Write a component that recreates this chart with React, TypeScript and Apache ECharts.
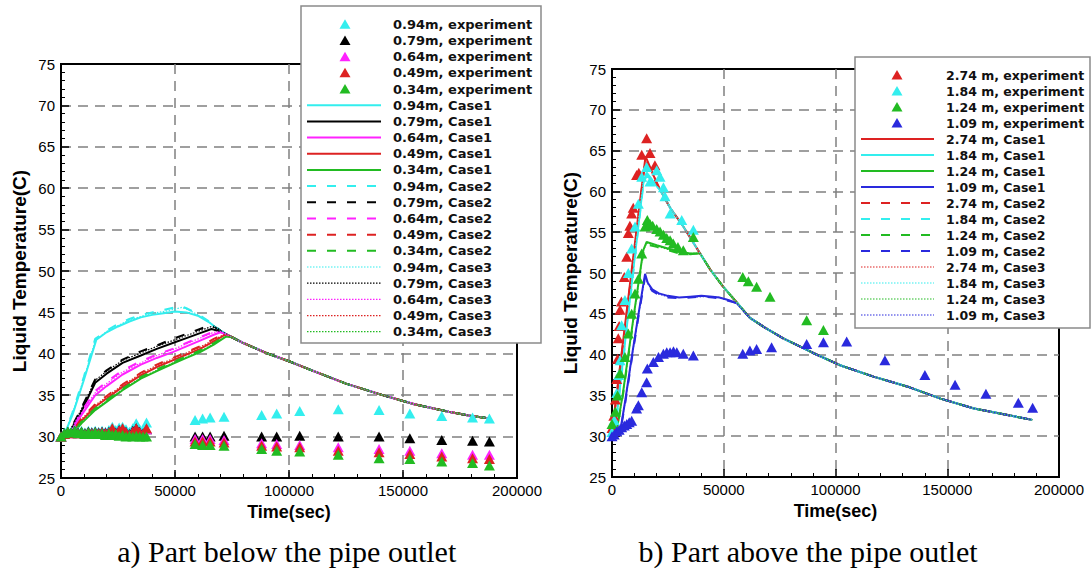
import React, { useEffect, useRef } from "react";
import * as echarts from "echarts";

// ---------- Panel a) : below the pipe outlet ----------
const LEFT_POS = ["0.94m", "0.79m", "0.64m", "0.49m", "0.34m"];
const LEFT_COLORS = ["#33EEEE", "#000000", "#FF22FF", "#DD2222", "#22BB22"];

const LEFT_EXP_X = [
  0, 1500, 3000, 4500, 6000, 7500, 9000, 10500, 12000, 13500, 15000, 16500, 18000,
  19500, 21000, 22500, 24000, 25500, 27000, 28500, 30000, 31500, 33000, 34500, 36000, 37500,
  58800, 62100, 65400, 71500, 88000, 94600, 104700, 121600, 139500, 153000, 167000, 180500, 187900,
];
const LEFT_EXP_094 = [
  30.0, 30.5, 30.7, 30.6, 30.8, 30.6, 30.7, 30.5, 30.7, 30.6, 30.7, 30.6, 30.7,
  30.6, 30.8, 31.2, 30.8, 31.1, 31.2, 30.9, 30.6, 31.0, 31.6, 30.9, 30.7, 31.7,
  32.0, 32.2, 32.3, 32.4, 32.6, 32.8, 33.1, 33.3, 33.2, 32.8, 32.5, 32.3, 32.2,
];
const LEFT_EXP_079 = [
  30.0, 30.4, 30.6, 30.5, 30.7, 30.5, 30.6, 30.4, 30.6, 30.5, 30.6, 30.5, 30.6,
  30.5, 30.6, 30.9, 30.5, 30.8, 30.9, 30.6, 30.3, 30.7, 31.0, 30.6, 30.4, 30.9,
  30.0, 30.0, 30.0, 30.1, 30.0, 30.0, 30.1, 30.0, 30.0, 29.8, 29.6, 29.5, 29.4,
];
const LEFT_EXP_064 = [
  30.0, 30.3, 30.5, 30.4, 30.6, 30.4, 30.5, 30.3, 30.5, 30.4, 30.5, 30.4, 30.5,
  30.4, 30.5, 30.8, 30.4, 30.7, 30.9, 30.5, 30.2, 30.6, 30.9, 30.5, 30.3, 30.9,
  29.7, 29.7, 29.7, 29.6, 29.2, 29.1, 29.0, 28.7, 28.5, 28.3, 28.0, 27.8, 27.8,
];
const LEFT_EXP_049 = [
  30.0, 30.3, 30.5, 30.4, 30.6, 30.4, 30.5, 30.3, 30.5, 30.4, 30.5, 30.4, 30.5,
  30.4, 30.5, 31.0, 30.3, 30.7, 31.0, 30.5, 30.2, 30.6, 31.0, 30.5, 30.3, 31.0,
  29.4, 29.4, 29.4, 29.3, 28.9, 28.8, 28.7, 28.3, 28.1, 27.9, 27.6, 27.4, 27.3,
];
const LEFT_EXP_034 = [
  30.0, 30.4, 30.6, 30.5, 30.7, 30.4, 30.6, 30.3, 30.5, 30.3, 30.5, 30.3, 30.4,
  30.2, 30.4, 30.2, 30.3, 30.1, 30.2, 30.0, 30.1, 30.0, 30.1, 30.0, 30.0, 30.0,
  29.1, 29.0, 29.0, 28.9, 28.5, 28.3, 28.2, 27.8, 27.4, 27.3, 27.0, 26.8, 26.5,
];

const LEFT_C1_094 = [[0, 30], [2000, 30.6], [5000, 32.6], [10000, 36.8], [15500, 41.7], [20000, 42.6], [25000, 43.3], [30000, 43.9], [35000, 44.4], [40000, 44.7], [45000, 44.9], [50000, 45.1], [55000, 45.0], [60000, 44.6], [65000, 43.8], [70000, 42.7]];
const LEFT_C2_094 = [[0, 30], [2000, 30.7], [5000, 32.9], [10000, 37.2], [15000, 41.8], [20000, 42.8], [25000, 43.6], [30000, 44.2], [35000, 44.7], [40000, 45.0], [45000, 45.3], [50000, 45.6], [52000, 45.8], [55000, 45.5], [60000, 44.8], [65000, 43.9], [70000, 42.8]];
const LEFT_C3_094 = [[0, 30], [2000, 30.7], [5000, 32.8], [10000, 37.0], [15000, 41.6], [20000, 42.7], [25000, 43.4], [30000, 44.1], [35000, 44.5], [40000, 44.9], [45000, 45.1], [50000, 45.4], [53000, 45.6], [56000, 45.3], [60000, 44.7], [65000, 43.8], [70000, 42.8]];
const LEFT_C1_079 = [[0, 30], [3000, 30.2], [8000, 32.5], [15000, 36.5], [20000, 37.6], [27000, 38.9], [35000, 39.8], [42000, 40.6], [49000, 41.3], [55000, 41.9], [61000, 42.5], [66000, 43.0], [70000, 42.7]];
const LEFT_C2_079 = [[0, 30], [3000, 30.3], [8000, 32.9], [15000, 36.9], [20000, 38.0], [27000, 39.3], [35000, 40.3], [42000, 41.0], [49000, 41.8], [55000, 42.4], [61000, 43.0], [66000, 43.5], [70000, 42.8]];
const LEFT_C3_079 = [[0, 30], [3000, 30.3], [8000, 32.8], [15000, 36.8], [20000, 37.9], [27000, 39.2], [35000, 40.1], [42000, 40.9], [49000, 41.6], [55000, 42.2], [61000, 42.8], [66000, 43.3], [70000, 42.8]];
const LEFT_C1_064 = [[0, 30], [3500, 30.1], [8000, 32.2], [15000, 35.0], [20000, 36.1], [27000, 37.5], [35000, 38.7], [42000, 39.5], [49000, 40.2], [55000, 40.9], [61000, 41.6], [67000, 42.3], [70000, 42.6]];
const LEFT_C2_064 = [[0, 30], [3500, 30.2], [8000, 32.6], [15000, 35.5], [20000, 36.6], [27000, 38.0], [35000, 39.1], [42000, 39.9], [49000, 40.6], [55000, 41.3], [61000, 42.0], [67000, 42.7], [70000, 42.7]];
const LEFT_C3_064 = [[0, 30], [3500, 30.2], [8000, 32.5], [15000, 35.3], [20000, 36.4], [27000, 37.8], [35000, 38.9], [42000, 39.8], [49000, 40.5], [55000, 41.2], [61000, 41.9], [67000, 42.6], [70000, 42.7]];
const LEFT_C1_049 = [[0, 30], [4000, 30.1], [9000, 31.9], [15000, 33.6], [20000, 34.6], [27000, 36.0], [35000, 37.4], [42000, 38.4], [49000, 39.2], [55000, 39.9], [61000, 40.6], [67000, 41.5], [72000, 42.3]];
const LEFT_C2_049 = [[0, 30], [4000, 30.2], [9000, 32.2], [15000, 33.9], [20000, 34.9], [27000, 36.3], [35000, 37.7], [42000, 38.7], [49000, 39.5], [55000, 40.2], [61000, 40.9], [67000, 41.8], [72000, 42.4]];
const LEFT_C3_049 = [[0, 30], [4000, 30.2], [9000, 32.1], [15000, 33.8], [20000, 34.8], [27000, 36.2], [35000, 37.6], [42000, 38.6], [49000, 39.4], [55000, 40.1], [61000, 40.8], [67000, 41.7], [72000, 42.4]];
const LEFT_C1_034 = [[0, 30], [4000, 30.0], [9000, 31.6], [15000, 33.2], [20000, 34.2], [27000, 35.6], [35000, 37.0], [42000, 37.9], [49000, 38.8], [55000, 39.5], [61000, 40.2], [67000, 41.1], [72500, 42.1]];
const LEFT_C2_034 = [[0, 30], [4000, 30.1], [9000, 31.8], [15000, 33.4], [20000, 34.4], [27000, 35.8], [35000, 37.2], [42000, 38.1], [49000, 39.0], [55000, 39.7], [61000, 40.4], [67000, 41.3], [72500, 42.2]];
const LEFT_C3_034 = [[0, 30], [4000, 30.1], [9000, 31.7], [15000, 33.3], [20000, 34.3], [27000, 35.7], [35000, 37.1], [42000, 38.0], [49000, 38.9], [55000, 39.6], [61000, 40.3], [67000, 41.2], [72500, 42.1]];
const LEFT_DECAY = [[75000, 42.0], [80000, 41.3], [90000, 40.1], [100000, 39.1], [110000, 38.0], [125000, 36.4], [140000, 35.1], [155000, 33.9], [170000, 33.0], [180000, 32.5], [188000, 32.2]];

// ---------- Panel b) : above the pipe outlet ----------
const RIGHT_POS = ["2.74 m", "1.84 m", "1.24 m", "1.09 m"];
const RIGHT_COLORS = ["#DD2222", "#33EEEE", "#22BB22", "#2A2ADD"];

const RIGHT_EXP_274 = [[0, 31.0], [800, 32.5], [1500, 34.5], [2100, 37.0], [2500, 39.5], [2800, 42.0], [3200, 43.5], [3600, 45.5], [4200, 46.5], [5500, 49.5], [6600, 52.0], [7300, 54.9], [8000, 55.8], [8800, 57.3], [9500, 58.0], [11000, 62.0], [12000, 62.3], [13300, 64.5], [15500, 66.5], [17000, 64.7], [19200, 63.2]];
const RIGHT_EXP_184 = [[0, 30.5], [1000, 32.0], [2100, 35.3], [3000, 37.5], [3600, 39.3], [4300, 43.6], [5800, 46.7], [7300, 50.0], [8800, 53.0], [10300, 55.7], [11800, 58.5], [13300, 61.8], [15500, 63.0], [17000, 61.2], [20000, 62.6], [21500, 61.8], [23000, 60.5], [23700, 59.4], [26000, 57.3], [31200, 56.5], [36400, 55.3]];
const RIGHT_EXP_124 = [[0, 31.5], [1500, 33.0], [2500, 35.0], [3600, 37.7], [5800, 39.7], [7300, 42.6], [8800, 45.0], [10300, 47.5], [11800, 49.3], [13300, 52.4], [14800, 55.7], [15800, 56.5], [17000, 56.0], [18200, 55.8], [20000, 55.4], [21500, 55.1], [23000, 54.7], [24500, 54.3], [26000, 54.0], [27400, 53.6], [29500, 53.2], [31900, 52.8], [36400, 54.4], [58500, 49.5], [61000, 49.0], [64700, 48.3], [70700, 47.1], [87100, 44.2], [94600, 43.0]];
const RIGHT_EXP_109 = [[0, 30.0], [1000, 30.2], [2100, 30.6], [3200, 30.8], [4300, 31.1], [5500, 31.3], [6600, 31.5], [7700, 31.7], [8800, 31.9], [11000, 33.4], [11800, 33.8], [13300, 35.4], [15500, 36.6], [15800, 38.3], [18500, 39.1], [20800, 39.7], [23000, 40.1], [24500, 40.3], [26000, 40.3], [27500, 40.4], [29000, 40.3], [31900, 40.1], [36400, 39.9], [58500, 40.1], [61700, 40.5], [64700, 40.7], [71400, 40.9], [87100, 41.3], [94600, 41.5], [105000, 41.6], [122100, 39.3], [140000, 37.5], [153500, 36.3], [167300, 35.2], [181800, 34.1], [188200, 33.5]];

const RIGHT_C1_274 = [[0, 30.5], [3000, 37.2], [6000, 44.0], [9000, 50.8], [12000, 57.6], [15000, 64.3], [17000, 63.0], [19000, 61.7]];
const RIGHT_C2_274 = [[0, 30.3], [3000, 37.0], [6000, 43.7], [9000, 50.5], [12000, 57.3], [15000, 64.0], [17000, 62.8], [19000, 61.5]];
const RIGHT_C3_274 = [[0, 30.4], [3000, 37.1], [6000, 43.9], [9000, 50.6], [12000, 57.5], [15000, 64.2], [17000, 62.9], [19000, 61.6]];
const RIGHT_C1_184 = [[0, 30], [1500, 31.0], [5000, 39.5], [10000, 51.5], [14000, 61.0], [15500, 62.3], [17500, 61.6], [19500, 60.8]];
const RIGHT_C2_184 = [[0, 30], [1500, 30.9], [5000, 39.2], [10000, 51.2], [14000, 60.8], [15500, 62.0], [17500, 61.4], [19500, 60.7]];
const RIGHT_C3_184 = [[0, 30], [1500, 31.0], [5000, 39.4], [10000, 51.4], [14000, 60.9], [15500, 62.2], [17500, 61.5], [19500, 60.8]];
const RIGHT_C1_124 = [[0, 30], [2000, 30.5], [5000, 35.5], [10000, 45.3], [14000, 52.8], [15500, 53.8], [20000, 53.4], [25000, 53.0], [30000, 52.6], [35000, 52.4]];
const RIGHT_C2_124 = [[0, 30], [2000, 30.4], [5000, 35.2], [10000, 45.0], [14000, 52.5], [15500, 53.5], [20000, 53.2], [25000, 52.8], [30000, 52.4], [35000, 52.3]];
const RIGHT_C3_124 = [[0, 30], [2000, 30.5], [5000, 35.4], [10000, 45.2], [14000, 52.7], [15500, 53.7], [20000, 53.3], [25000, 52.9], [30000, 52.5], [35000, 52.4]];
const RIGHT_C1_109 = [[0, 30], [3500, 30.3], [6000, 34.5], [9000, 40.0], [12000, 45.2], [14800, 49.9], [16000, 48.8], [18000, 48.0], [21000, 47.5], [25000, 47.2], [30000, 47.0], [35000, 47.1], [40000, 47.2], [45000, 47.1], [48000, 47.0], [52000, 46.7], [55800, 46.3]];
const RIGHT_C2_109 = [[0, 30], [3500, 30.2], [6000, 34.2], [9000, 39.7], [12000, 44.9], [14800, 49.5], [16000, 48.6], [18000, 47.8], [21000, 47.3], [25000, 47.0], [30000, 46.9], [35000, 47.0], [40000, 47.1], [45000, 47.0], [48000, 46.9], [52000, 46.6], [55800, 46.3]];
const RIGHT_C3_109 = [[0, 30], [3500, 30.3], [6000, 34.4], [9000, 39.9], [12000, 45.1], [14800, 49.7], [16000, 48.7], [18000, 47.9], [21000, 47.4], [25000, 47.1], [30000, 47.0], [35000, 47.0], [40000, 47.1], [45000, 47.1], [48000, 47.0], [52000, 46.7], [55800, 46.3]];
const RIGHT_DECAY = [[21500, 60.2], [26000, 58.0], [31900, 55.7], [39400, 52.4], [44000, 50.4], [49800, 48.3], [55800, 46.4], [61700, 44.5], [69000, 43.2], [76600, 42.0], [90000, 40.2], [102000, 38.7], [117000, 37.3], [132000, 36.1], [147000, 34.6], [162000, 33.4], [177000, 32.6], [188000, 32.0]];

const CASES = ["Case1", "Case2", "Case3"];
const CASE_STYLE: Record<string, { width: number; dash: number[] | null }> = {
  Case1: { width: 2, dash: null },
  Case2: { width: 2, dash: [9, 11] },
  Case3: { width: 1.2, dash: [1.5, 1.5] },
};

const withDecay = (rise: number[][], decay: number[][]) =>
  rise.concat(decay.filter((p) => p[0] > rise[rise.length - 1][0]));

const LEFT_LINES = [
  [LEFT_C1_094, LEFT_C1_079, LEFT_C1_064, LEFT_C1_049, LEFT_C1_034],
  [LEFT_C2_094, LEFT_C2_079, LEFT_C2_064, LEFT_C2_049, LEFT_C2_034],
  [LEFT_C3_094, LEFT_C3_079, LEFT_C3_064, LEFT_C3_049, LEFT_C3_034],
];
const LEFT_EXPS = [LEFT_EXP_094, LEFT_EXP_079, LEFT_EXP_064, LEFT_EXP_049, LEFT_EXP_034];
const RIGHT_LINES = [
  [RIGHT_C1_274, RIGHT_C1_184, RIGHT_C1_124, RIGHT_C1_109],
  [RIGHT_C2_274, RIGHT_C2_184, RIGHT_C2_124, RIGHT_C2_109],
  [RIGHT_C3_274, RIGHT_C3_184, RIGHT_C3_124, RIGHT_C3_109],
];
const RIGHT_EXPS = [RIGHT_EXP_274, RIGHT_EXP_184, RIGHT_EXP_124, RIGHT_EXP_109];

const AXIS_FONT = "Liberation Sans, Arial, sans-serif";
const LEGEND_FONT = "DejaVu Sans, sans-serif";

function makeAxes(grid: number) {
  const common = {
    gridIndex: grid,
    type: "value" as const,
    axisLine: { show: true, onZero: false, lineStyle: { color: "#000", width: 2 } },
    axisTick: { show: true, inside: true, length: 8, lineStyle: { color: "#000", width: 1.5 } },
    minorTick: { show: true, splitNumber: 5, length: 4, lineStyle: { color: "#000", width: 1 } },
    splitLine: {
      show: true,
      showMinLine: false,
      showMaxLine: false,
      lineStyle: { color: "#808080", width: 1.5, type: [10, 7] },
    },
  };
  const x = {
    ...common,
    min: 0,
    max: 200000,
    interval: 50000,
    axisLabel: {
      color: "#000",
      fontSize: 15,
      fontFamily: AXIS_FONT,
      margin: 5,
      formatter: (v: number) => String(v),
    },
    name: "Time(sec)",
    nameLocation: "middle",
    nameGap: 14,
    nameTextStyle: { color: "#000", fontSize: 18, fontWeight: "bold", fontFamily: AXIS_FONT },
  };
  const y = {
    ...common,
    min: 25,
    max: 75,
    interval: 5,
    axisLabel: { color: "#000", fontSize: 15, fontFamily: AXIS_FONT, margin: 6 },
    name: "Liquid Temperature(C)",
    nameLocation: "middle",
    nameGap: 32,
    nameTextStyle: { color: "#000", fontSize: 19, fontWeight: "bold", fontFamily: AXIS_FONT },
  };
  return { x, y };
}

function lineSeries(grid: number, name: string, color: string, cs: string, data: number[][]) {
  const st = CASE_STYLE[cs];
  return {
    type: "line",
    name,
    xAxisIndex: grid,
    yAxisIndex: grid,
    data,
    symbol: "none",
    showSymbol: false,
    lineStyle: { color, width: st.width, type: st.dash ? st.dash : "solid" },
    z: 2,
  };
}

function expSeries(grid: number, name: string, color: string, data: number[][]) {
  return {
    type: "scatter",
    name,
    xAxisIndex: grid,
    yAxisIndex: grid,
    data,
    symbol: "triangle",
    symbolSize: [11, 10],
    itemStyle: { color, opacity: 1 },
    z: 3,
  };
}

type LegendItem = { label: string; color: string; kind: string };

function legendGraphics(
  items: LegendItem[],
  box: { x: number; y: number; w: number; h: number },
  rowY0: number,
  rowGap: number,
  lineX1: number,
  lineX2: number,
  markX: number,
  textX: number,
  fontSize: number
) {
  const els: any[] = [
    {
      type: "rect",
      shape: { x: box.x, y: box.y, width: box.w, height: box.h },
      style: { fill: "#fff", stroke: "#8a8a8a", lineWidth: 1.5 },
      z: 100,
    },
  ];
  items.forEach((it, i) => {
    const y = rowY0 + i * rowGap;
    if (it.kind === "exp") {
      els.push({
        type: "polygon",
        shape: { points: [[markX, y - 5], [markX + 5.5, y + 4.5], [markX - 5.5, y + 4.5]] },
        style: { fill: it.color },
        z: 101,
      });
    } else {
      const st = CASE_STYLE[it.kind];
      els.push({
        type: "line",
        shape: { x1: lineX1, y1: y, x2: lineX2, y2: y },
        style: { stroke: it.color, lineWidth: st.width, lineDash: st.dash ? st.dash : null },
        z: 101,
      });
    }
    els.push({
      type: "text",
      x: textX,
      y,
      style: {
        text: it.label,
        fill: "#111",
        fontSize,
        fontWeight: "bold",
        fontFamily: LEGEND_FONT,
        textAlign: "left",
        textVerticalAlign: "middle",
        align: "left",
        verticalAlign: "middle",
      },
      z: 101,
    });
  });
  return els;
}

const captionStyle = (text: string) => ({
  text,
  fill: "#000",
  fontSize: 30,
  fontFamily: "Liberation Serif, Times New Roman, serif",
  textAlign: "center",
  textVerticalAlign: "middle",
  align: "center",
  verticalAlign: "middle",
});

export default function App() {
  const ref = useRef<HTMLDivElement>(null);

  useEffect(() => {
    if (!ref.current) return;
    const chart = echarts.init(ref.current, undefined, { renderer: "svg" });

    const a0 = makeAxes(0);
    const a1 = makeAxes(1);

    const series: any[] = [];
    CASES.forEach((cs, ci) => {
      LEFT_POS.forEach((p, pi) => {
        series.push(lineSeries(0, `${p}, ${cs}`, LEFT_COLORS[pi], cs, withDecay(LEFT_LINES[ci][pi], LEFT_DECAY)));
      });
    });
    LEFT_POS.forEach((p, pi) => {
      series.push(
        expSeries(0, `${p}, experiment`, LEFT_COLORS[pi], LEFT_EXP_X.map((x, k) => [x, LEFT_EXPS[pi][k]]))
      );
    });
    CASES.forEach((cs, ci) => {
      RIGHT_POS.forEach((p, pi) => {
        series.push(lineSeries(1, `${p}, ${cs}`, RIGHT_COLORS[pi], cs, withDecay(RIGHT_LINES[ci][pi], RIGHT_DECAY)));
      });
    });
    RIGHT_POS.forEach((p, pi) => {
      series.push(expSeries(1, `${p}, experiment`, RIGHT_COLORS[pi], RIGHT_EXPS[pi]));
    });

    const leftItems: LegendItem[] = [
      ...LEFT_POS.map((p, i) => ({ label: `${p}, experiment`, color: LEFT_COLORS[i], kind: "exp" })),
      ...CASES.flatMap((cs) => LEFT_POS.map((p, i) => ({ label: `${p}, ${cs}`, color: LEFT_COLORS[i], kind: cs }))),
    ];
    const rightItems: LegendItem[] = [
      ...RIGHT_POS.map((p, i) => ({ label: `${p}, experiment`, color: RIGHT_COLORS[i], kind: "exp" })),
      ...CASES.flatMap((cs) => RIGHT_POS.map((p, i) => ({ label: `${p}, ${cs}`, color: RIGHT_COLORS[i], kind: cs }))),
    ];

    const graphics: any[] = [
      ...legendGraphics(leftItems, { x: 301, y: 6, w: 240, h: 337 }, 24.3, 16.18, 307, 381, 345, 393, 13),
      ...legendGraphics(rightItems, { x: 855, y: 57, w: 235, h: 271 }, 75, 16, 861, 934, 897, 946, 12.5),
      { type: "text", x: 286.7, y: 551, style: captionStyle("a) Part below the pipe outlet"), z: 100 },
      { type: "text", x: 808, y: 551, style: captionStyle("b) Part above the pipe outlet"), z: 100 },
    ];

    chart.setOption({
      animation: false,
      backgroundColor: "#fff",
      grid: [
        { left: 61, top: 64, width: 456, height: 414, show: true, borderColor: "#000", borderWidth: 2, backgroundColor: "transparent" },
        { left: 612, top: 69, width: 447, height: 408, show: true, borderColor: "#000", borderWidth: 2, backgroundColor: "transparent" },
      ],
      xAxis: [a0.x, a1.x],
      yAxis: [a0.y, a1.y],
      series,
      graphic: graphics,
    });

    return () => chart.dispose();
  }, []);

  return (
    <div
      ref={ref}
      style={{ position: "absolute", left: 0, top: 0, width: 1091, height: 571, background: "#fff" }}
    />
  );
}
